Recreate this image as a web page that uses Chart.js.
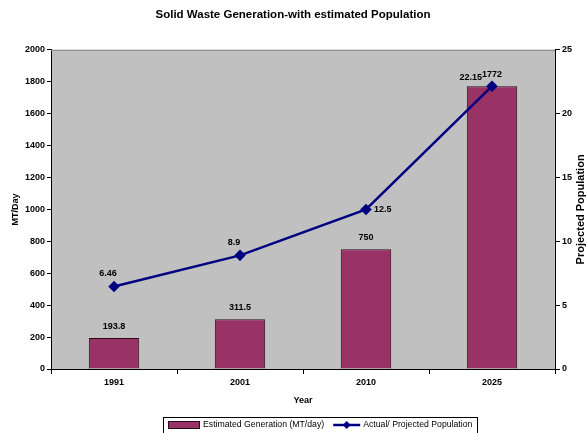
<!DOCTYPE html>
<html>
<head>
<meta charset="utf-8">
<script src="https://cdn.jsdelivr.net/npm/chart.js@4/dist/chart.umd.min.js"></script>
<style>
    html, body { margin: 0; padding: 0; background: #fff; }
    #wrap { width: 586px; height: 433px; }
</style>
</head>
<body>
<div id="wrap"><canvas id="wasteChart"></canvas></div>
<script>
// chart data
const years = ["1991", "2001", "2010", "2025"];
const generation = [193.8, 311.5, 750, 1772];
const population = [6.46, 8.9, 12.5, 22.15];
const leftTicks = [0, 200, 400, 600, 800, 1000, 1200, 1400, 1600, 1800, 2000];
const rightTicks = [0, 5, 10, 15, 20, 25];

const FONT = "'Liberation Sans', Arial, sans-serif";
const PLUM = "#993366";
const NAVY = "#000080";

// Plot background, value labels, right title and boxed legend
const excelLook = {
    id: "excelLook",
    beforeDraw(chart) {
        const a = chart.chartArea;
        const ctx = chart.ctx;
        ctx.save();
        ctx.fillStyle = "#c0c0c0";
        ctx.fillRect(a.left, a.top, a.right - a.left, a.bottom - a.top);
        ctx.restore();
    },
    beforeDatasetsDraw(chart) {
        const a = chart.chartArea;
        const ctx = chart.ctx;
        ctx.save();
        ctx.strokeStyle = "#808080";
        ctx.lineWidth = 1;
        ctx.beginPath();
        ctx.moveTo(a.left, a.top + 0.5);
        ctx.lineTo(a.right, a.top + 0.5);
        ctx.stroke();
        ctx.restore();
    },
    afterDatasetsDraw(chart) {
        const ctx = chart.ctx;
        ctx.save();
        ctx.font = "bold 9px " + FONT;
        ctx.fillStyle = "#000";
        ctx.textBaseline = "middle";

        // bar labels
        ctx.textAlign = "center";
        chart.getDatasetMeta(0).data.forEach((bar, i) => {
            ctx.fillText(String(generation[i]), bar.x, bar.y - 12);
        });

        // line labels
        chart.getDatasetMeta(1).data.forEach((pt, i) => {
            const txt = String(population[i]);
            if (i === 2) {
                ctx.textAlign = "left";
                ctx.fillText(txt, pt.x + 8, pt.y);
            } else if (i === 3) {
                ctx.textAlign = "right";
                ctx.fillText(txt, pt.x - 10, pt.y - 9);
            } else {
                ctx.textAlign = "center";
                ctx.fillText(txt, pt.x - 6, pt.y - 13);
            }
        });
        ctx.restore();
    },
    afterDraw(chart) {
        const a = chart.chartArea;
        const ctx = chart.ctx;
        ctx.save();

        // right axis title, reading bottom to top
        ctx.font = "bold 11px " + FONT;
        ctx.fillStyle = "#000";
        ctx.textAlign = "center";
        ctx.textBaseline = "middle";
        ctx.translate(581, (a.top + a.bottom) / 2);
        ctx.rotate(-Math.PI / 2);
        ctx.fillText("Projected Population", 0, 0);
        ctx.restore();

        // legend
        ctx.save();
        ctx.font = "8.7px " + FONT;
        const label1 = chart.data.datasets[0].label;
        const label2 = chart.data.datasets[1].label;
        const boxLeft = 163, boxTop = 417.5;
        let x = boxLeft + 5;
        const midY = 425;

        ctx.fillStyle = PLUM;
        ctx.fillRect(x, midY - 4, 32, 8);
        ctx.strokeStyle = "#2b0a1c";
        ctx.lineWidth = 1;
        ctx.strokeRect(x + 0.5, midY - 3.5, 31, 7);
        x += 35;

        ctx.fillStyle = "#000";
        ctx.textAlign = "left";
        ctx.textBaseline = "middle";
        ctx.fillText(label1, x, midY);
        x += ctx.measureText(label1).width + 9;

        ctx.strokeStyle = NAVY;
        ctx.lineWidth = 2.5;
        ctx.beginPath();
        ctx.moveTo(x, midY);
        ctx.lineTo(x + 27, midY);
        ctx.stroke();
        ctx.fillStyle = NAVY;
        ctx.beginPath();
        ctx.moveTo(x + 13.5, midY - 4);
        ctx.lineTo(x + 17.5, midY);
        ctx.lineTo(x + 13.5, midY + 4);
        ctx.lineTo(x + 9.5, midY);
        ctx.closePath();
        ctx.fill();
        x += 30;

        ctx.fillStyle = "#000";
        ctx.fillText(label2, x, midY);
        x += ctx.measureText(label2).width + 5;

        ctx.strokeStyle = "#000";
        ctx.lineWidth = 1;
        ctx.strokeRect(boxLeft + 0.5, boxTop, Math.round(x - boxLeft), 20);
        ctx.restore();
    }
};

document.addEventListener("DOMContentLoaded", function () {
    new Chart(document.getElementById("wasteChart").getContext("2d"), {
        data: {
            labels: years,
            datasets: [{
                type: "bar",
                label: "Estimated Generation (MT/day)",
                data: generation,
                yAxisID: "y",
                backgroundColor: PLUM,
                borderColor: "#2b0a1c",
                borderWidth: 1,
                barPercentage: 0.4,
                categoryPercentage: 1,
                order: 2
            }, {
                type: "line",
                label: "Actual/ Projected Population",
                data: population,
                yAxisID: "y1",
                borderColor: NAVY,
                backgroundColor: NAVY,
                borderWidth: 2.5,
                pointStyle: "rectRot",
                pointRadius: 4,
                pointHoverRadius: 4,
                tension: 0,
                order: 1
            }]
        },
        options: {
            responsive: true,
            maintainAspectRatio: false,
            animation: false,
            layout: { padding: { left: 0, right: 0, top: 0, bottom: 27 } },
            plugins: {
                legend: { display: false },
                tooltip: { enabled: false },
                title: {
                    display: true,
                    text: "Solid Waste Generation-with estimated Population",
                    color: "#000",
                    font: { family: FONT, size: 11.5, weight: "bold" },
                    padding: { top: 8, bottom: 28 }
                }
            },
            scales: {
                x: {
                    offset: true,
                    grid: { drawOnChartArea: false, drawTicks: true, tickLength: 5, color: "#000", offset: true },
                    border: { color: "#000", width: 1 },
                    ticks: { color: "#000", padding: 3, font: { family: FONT, size: 9, weight: "bold" } },
                    title: { display: true, text: "Year", color: "#000", padding: { top: 2, bottom: 0 }, font: { family: FONT, size: 9, weight: "bold" } },
                    afterFit(scale) { scale.height = 37; }
                },
                y: {
                    position: "left",
                    min: 0,
                    max: 2000,
                    afterBuildTicks(scale) { scale.ticks = leftTicks.map(v => ({ value: v })); },
                    grid: { drawOnChartArea: false, drawTicks: true, tickLength: 4, color: "#000" },
                    border: { color: "#000", width: 1 },
                    ticks: {
                        color: "#000",
                        padding: 2,
                        font: { family: FONT, size: 9, weight: "bold" },
                        callback: v => String(v)
                    },
                    title: { display: true, text: "MT/Day", color: "#000", padding: { top: 10, bottom: 0 }, font: { family: FONT, size: 9, weight: "bold" } },
                    afterFit(scale) { scale.width = 51; }
                },
                y1: {
                    position: "right",
                    min: 0,
                    max: 25,
                    afterBuildTicks(scale) { scale.ticks = rightTicks.map(v => ({ value: v })); },
                    grid: { drawOnChartArea: false, drawTicks: true, tickLength: 5, color: "#000" },
                    border: { color: "#000", width: 1 },
                    ticks: {
                        color: "#000",
                        padding: 2,
                        font: { family: FONT, size: 9, weight: "bold" },
                        callback: v => String(v)
                    },
                    afterFit(scale) { scale.width = 31; }
                }
            }
        },
        plugins: [excelLook]
    });
});
</script>
</body>
</html>
